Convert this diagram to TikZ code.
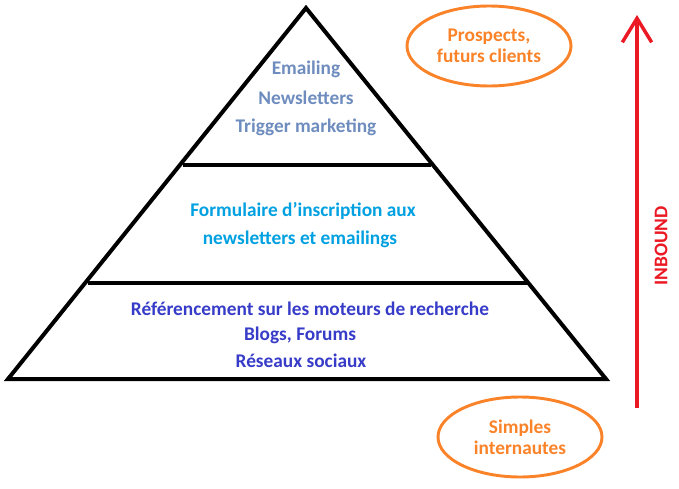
\documentclass[tikz,border=0pt]{standalone}
\usepackage{fontspec}
\setmainfont{Carlito}
\usetikzlibrary{arrows.meta,shapes.geometric}
\definecolor{topc}{RGB}{110,140,190}
\definecolor{midc}{RGB}{0,160,225}
\definecolor{botc}{RGB}{55,60,200}
\definecolor{orng}{RGB}{250,130,40}
\definecolor{redc}{RGB}{235,25,35}
\begin{document}
\begin{tikzpicture}[x=0.75pt,y=-0.75pt,
  txt/.style={font=\bfseries\fontsize{14.5}{17}\selectfont,align=center},
  ell/.style={draw=orng,line width=2.2pt,ellipse,minimum width=123pt,minimum height=60pt,inner sep=0pt,text=orng,txt}]
\useasboundingbox (0,0) rectangle (679,489);
\coordinate (apex) at (306,8);
\coordinate (bl) at (8,379);
\coordinate (br) at (606,379);
\draw[line width=3pt,line join=miter] (apex) -- (br) -- (bl) -- cycle;
\coordinate (l1a) at (183,165); \coordinate (l1b) at (431,165);
\coordinate (l2a) at (88,283); \coordinate (l2b) at (527,283);
\draw[line width=3pt] (l1a) -- (l1b);
\draw[line width=3pt] (l2a) -- (l2b);
\node[txt,text=topc] (t1) at (306,69) {Emailing};
\node[txt,text=topc] (t2) at (306,98) {Newsletters};
\node[txt,text=topc] (t3) at (306,127) {Trigger marketing};
\node[txt,text=midc] (m1) at (303,211) {Formulaire d\symbol{"27}inscription aux};
\node[txt,text=midc] (m2) at (300,239) {newsletters et emailings};
\node[txt,text=botc] (b1) at (310,309) {Référencement sur les moteurs de recherche};
\node[txt,text=botc] (b2) at (300,335) {Blogs, Forums};
\node[txt,text=botc] (b3) at (301,361) {Réseaux sociaux};
\node[ell] (e1) at (489,46) {Prospects,\\[-1pt]futurs clients};
\node[ell] (e2) at (520,437) {Simples\\[-1pt]internautes};
\coordinate (as) at (637,408);
\coordinate (ae) at (637,15);
\draw[redc,line width=2.6pt,-{Straight Barb[length=18pt,width=22pt,line width=2.6pt]}] (as) -- (ae);
\node[txt,text=redc,rotate=90] (ib) at (661,246) {INBOUND};
\end{tikzpicture}
\end{document}
